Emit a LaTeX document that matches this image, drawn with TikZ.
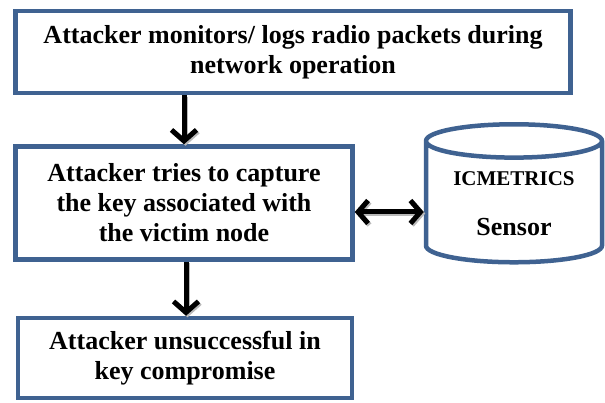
\documentclass[tikz,border=0pt]{standalone}
\usepackage{fontspec}
\setmainfont{Liberation Serif}
\usetikzlibrary{shapes.geometric,arrows.meta,positioning}
\definecolor{boxblue}{RGB}{63,98,145}

\begin{document}
\begin{tikzpicture}[x=1pt,y=1pt,
    stepbox/.style={draw=boxblue, line width=4.5pt, fill=white, align=center,
        inner sep=0pt, font=\bfseries\fontsize{26}{30}\selectfont},
    flow/.style={line width=5pt, -{Straight Barb[length=11pt,width=25pt]}},
    biflow/.style={line width=5pt, {Straight Barb[length=10pt,width=23pt]}-{Straight Barb[length=10pt,width=23pt]}},
    arrowshadow/.style={draw=gray!55, transform canvas={shift={(1.5pt,-1.5pt)}}}
]
\useasboundingbox (0,0) rectangle (605,402);

% flow boxes
\node[stepbox, minimum width=555pt, minimum height=82pt] (monitor) at (293,350)
    {Attacker monitors/ logs radio packets during\\network operation};
\node[stepbox, minimum width=337pt, minimum height=113pt] (capture) at (184,199)
    {Attacker tries to capture\\the key associated with\\the victim node};
\node[stepbox, minimum width=334pt, minimum height=80pt] (fail) at (185,44)
    {Attacker unsuccessful in\\key compromise};

% sensor
\node[cylinder, shape border rotate=90, draw=boxblue, line width=4.5pt, fill=white,
    minimum width=176pt, minimum height=138pt, aspect=5] (sensor) at (514,197) {};
\node[font=\bfseries\fontsize{21}{24}\selectfont] (icm) at (514,223) {ICMETRICS};
\node[font=\bfseries\fontsize{26}{30}\selectfont] (sens) at (514,175) {Sensor};

% arrows, grey shadow first
\draw[flow, arrowshadow] (capture.north |- monitor.south) -- (capture.north);
\draw[flow] (capture.north |- monitor.south) -- (capture.north);
\draw[flow, arrowshadow] ([xshift=2pt]capture.south) -- ([xshift=2pt]capture.south |- fail.north);
\draw[flow] ([xshift=2pt]capture.south) -- ([xshift=2pt]capture.south |- fail.north);
\draw[biflow, arrowshadow] ([yshift=-9pt]capture.east) -- ([yshift=-9pt]capture.east -| sensor.west);
\draw[biflow] ([yshift=-9pt]capture.east) -- ([yshift=-9pt]capture.east -| sensor.west);
\end{tikzpicture}
\end{document}
